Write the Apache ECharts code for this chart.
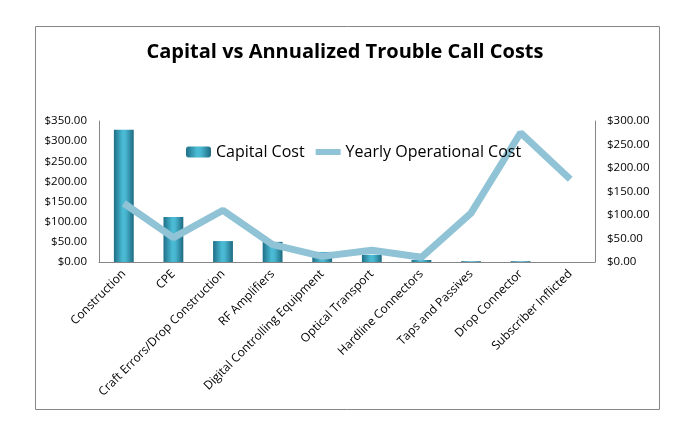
<!DOCTYPE html>
<html><head><meta charset="utf-8">
<script src="https://cdn.jsdelivr.net/npm/echarts@6/dist/echarts.min.js"></script>
<style>html,body{margin:0;padding:0;background:#fff}#c{width:690px;height:441px}</style>
</head><body><div id="c"></div>
<script>
const categories = ["Construction","CPE","Craft Errors/Drop Construction","RF Amplifiers","Digital Controlling Equipment","Optical Transport","Hardline Connectors","Taps and Passives","Drop Connector","Subscriber Inflicted"];
const capitalCost = [328, 112, 52, 50, 25, 18, 5, 2, 2, 0];
const yearlyOpCost = [125, 52, 110, 37, 12, 25, 10, 104, 275, 176];
const leftTicks = [0, 350, 50];
const rightTicks = [0, 300, 50];

const chart = echarts.init(document.getElementById('c'));
const font = "'Open Sans', 'Liberation Sans', sans-serif";
const barGrad = new echarts.graphic.LinearGradient(0,0,1,0,[
  {offset:0,color:'#1f6f87'},{offset:0.45,color:'#4bbcd6'},{offset:0.6,color:'#48b5cf'},{offset:1,color:'#1d6a81'}]);
chart.setOption({
  animation:false,
  backgroundColor:'#fff',
  title:{text:'Capital vs Annualized Trouble Call Costs',left:'center',top:37,
    textStyle:{fontFamily:font,fontWeight:'bold',fontSize:20,color:'#000'}},
  graphic:[{type:'rect',shape:{x:35.5,y:26.5,width:624,height:383},style:{fill:'none',stroke:'#868686',lineWidth:1}}],
  legend:{left:181,top:139,itemWidth:25,itemHeight:11,itemGap:8,
    textStyle:{fontFamily:font,fontSize:16,color:'#000'},
    data:[{name:'Capital Cost'},{name:'Yearly Operational Cost',itemStyle:{opacity:0},lineStyle:{width:6,color:'#8fc3d5'}}]},
  grid:{left:99,right:95,top:121,bottom:179,containLabel:false},
  xAxis:{type:'category',data:categories,
    axisLine:{lineStyle:{color:'#868686'}},axisTick:{show:false},
    axisLabel:{interval:0,rotate:45,fontFamily:font,fontSize:12,color:'#000',margin:10}},
  yAxis:[
    {type:'value',min:leftTicks[0],max:leftTicks[1],interval:leftTicks[2],
      axisLine:{show:true,lineStyle:{color:'#868686'}},axisTick:{show:false},splitLine:{show:false},
      axisLabel:{fontFamily:font,fontSize:11.5,color:'#000',margin:12,formatter:v=>'$'+v.toFixed(2)}},
    {type:'value',min:rightTicks[0],max:rightTicks[1],interval:rightTicks[2],position:'right',
      axisLine:{show:true,lineStyle:{color:'#868686'}},axisTick:{show:false},splitLine:{show:false},
      axisLabel:{fontFamily:font,fontSize:11.5,color:'#000',margin:12,formatter:v=>'$'+v.toFixed(2)}}
  ],
  series:[
    {name:'Capital Cost',type:'bar',data:capitalCost,barWidth:'40%',yAxisIndex:0,
      itemStyle:{color:barGrad}},
    {name:'Yearly Operational Cost',type:'line',data:yearlyOpCost,yAxisIndex:1,
      symbol:'none',lineStyle:{color:'#8fc3d5',width:7},itemStyle:{color:'#8fc3d5'}}
  ]
});
</script></body></html>
